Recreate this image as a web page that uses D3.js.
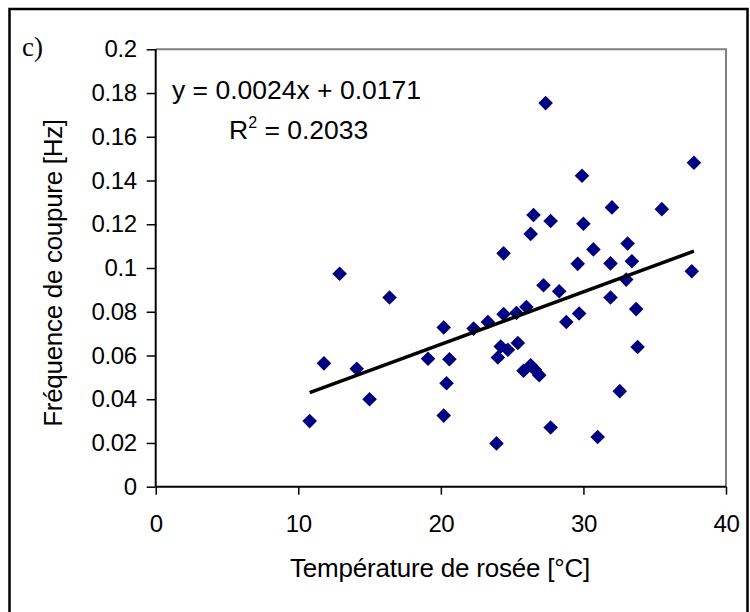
<!DOCTYPE html>
<html><head><meta charset="utf-8">
<script src="https://cdn.jsdelivr.net/npm/d3@7"></script>
<style>body{margin:0;background:#fff}svg{display:block}</style>
</head><body>
<svg id="c" width="750" height="612"></svg>
<script>
const xValues = [10.8,11.8,12.9,14.1,15.0,16.4,19.1,20.2,20.4,20.6,20.2,22.3,23.3,23.9,24.0,24.2,24.7,24.4,24.4,25.3,25.4,26.0,25.8,26.3,26.6,26.9,26.3,26.5,27.35,27.2,27.7,27.7,28.3,28.8,29.6,29.7,29.9,30.0,30.7,31.0,31.9,31.9,32.0,32.55,33.0,33.1,33.4,33.7,33.8,35.5,37.6,37.75];
const yValues = [0.030,0.0564,0.0974,0.0539,0.040,0.0865,0.0585,0.0728,0.0473,0.0583,0.0325,0.0723,0.0753,0.0198,0.0591,0.0641,0.0626,0.0789,0.1067,0.0794,0.0657,0.0822,0.053,0.0555,0.0535,0.051,0.1156,0.1242,0.1754,0.0921,0.1215,0.0271,0.0894,0.0753,0.1019,0.0792,0.1422,0.1202,0.1085,0.0227,0.1021,0.0865,0.1277,0.0437,0.0947,0.1112,0.1031,0.0812,0.0639,0.1269,0.0985,0.1481];
const xTicks = [0,10,20,30,40];
const yTicks = [0,0.02,0.04,0.06,0.08,0.1,0.12,0.14,0.16,0.18,0.2];
const yTickLabels = ["0","0.02","0.04","0.06","0.08","0.1","0.12","0.14","0.16","0.18","0.2"];
const slope = 0.0024, intercept = 0.0171;
const equationText = "y = 0.0024x + 0.0171";
const r2Value = "0.2033";
const xTitle = "Température de rosée [°C]";
const yTitle = "Fréquence de coupure [Hz]";
const panelLabel = "c)";

const svg = d3.select("#c");
const L = 155.7, R = 726, T = 49.3, B = 486.7;
const x = d3.scaleLinear().domain([0,40]).range([L,R]);
const y = d3.scaleLinear().domain([0,0.2]).range([B,T]);
const font = "'Liberation Sans', Arial, sans-serif";

// outer frame
svg.append("rect").attr("x",9.5).attr("y",9).attr("width",738).attr("height",640)
  .attr("fill","none").attr("stroke","#000").attr("stroke-width",2.5);

// plot frame top/right (gray)
svg.append("path").attr("d",`M${L},${T}H${R}V${B}`).attr("fill","none")
  .attr("stroke","#808080").attr("stroke-width",2);

// axes
const yAxis = d3.axisLeft(y).tickValues(yTicks).tickSize(9).tickPadding(10)
  .tickFormat((d,i)=>yTickLabels[i]);
const gy = svg.append("g").attr("transform",`translate(${L},0)`).call(yAxis);
const xAxis = d3.axisBottom(x).tickValues(xTicks).tickSize(8).tickPadding(20);
const gx = svg.append("g").attr("transform",`translate(0,${B})`).call(xAxis);
[gx,gy].forEach(g=>{
  g.select(".domain").attr("stroke","#000").attr("stroke-width",2);
  g.selectAll(".tick line").attr("stroke","#000").attr("stroke-width",1.5);
  g.selectAll("text").attr("font-family",font).attr("font-size",24)
    .attr("letter-spacing",-0.4).attr("fill","#000");
});
gx.select(".domain").attr("d",`M${L},0H${R}`);
gy.select(".domain").attr("d",`M0,${B}V${T}`);

// points
const diamond = "M0,-7.3L7.3,0L0,7.3L-7.3,0Z";
svg.append("g").selectAll("path").data(xValues.map((v,i)=>[v,yValues[i]])).join("path")
  .attr("d",diamond).attr("transform",d=>`translate(${x(d[0])},${y(d[1])})`)
  .attr("fill","#000080");

// trend line
const xmin = d3.min(xValues), xmax = d3.max(xValues);
svg.append("line").attr("x1",x(xmin)).attr("y1",y(slope*xmin+intercept))
  .attr("x2",x(xmax)).attr("y2",y(slope*xmax+intercept))
  .attr("stroke","#000").attr("stroke-width",3.5);

// equation
svg.append("text").attr("x",172).attr("y",99).attr("font-family",font).attr("font-size",26.5)
  .attr("letter-spacing",0).text(equationText);
const r2 = svg.append("text").attr("x",229).attr("y",139).attr("font-family",font).attr("font-size",26.5).attr("letter-spacing",0);
r2.append("tspan").text("R");
r2.append("tspan").attr("dy",-11).attr("font-size",16).text("2");
r2.append("tspan").attr("dy",11).text(" = " + r2Value);

// titles
svg.append("text").attr("x",440).attr("y",577).attr("text-anchor","middle")
  .attr("font-family",font).attr("font-size",26).attr("letter-spacing",-0.2).text(xTitle);
svg.append("text").attr("transform","translate(62,273) rotate(-90)").attr("text-anchor","middle")
  .attr("font-family",font).attr("font-size",26).attr("letter-spacing",-0.3).text(yTitle);
svg.append("text").attr("x",22).attr("y",56).attr("font-family","'Liberation Serif', 'Times New Roman', serif")
  .attr("font-size",27).text(panelLabel);
</script>
</body></html>
